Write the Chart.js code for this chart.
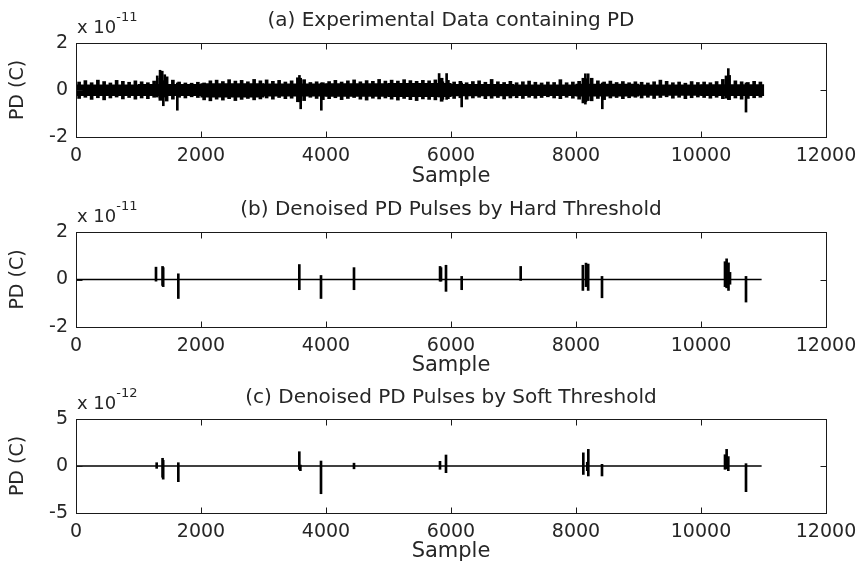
<!DOCTYPE html>
<html>
<head>
<meta charset="utf-8">
<script src="https://cdn.jsdelivr.net/npm/chart.js@4/dist/chart.umd.min.js"></script>
<style>
  html, body { margin: 0; padding: 0; background: #fff; }
  #wrap { position: relative; width: 859px; height: 566px; overflow: hidden; }
  canvas { position: absolute; left: 0; }
</style>
</head>
<body>
<div id="wrap">
  <canvas id="panelA" width="880" height="189" style="top:0px"></canvas>
  <canvas id="panelB" width="880" height="189" style="top:189px"></canvas>
  <canvas id="panelC" width="880" height="188" style="top:378px"></canvas>
</div>
<script>
// texts
const panelTitles = [
    "(a) Experimental Data containing PD",
    "(b) Denoised PD Pulses by Hard Threshold",
    "(c) Denoised PD Pulses by Soft Threshold"
];
const xLabel = "Sample";
const yLabel = "PD (C)";
const exponents = ["-11", "-11", "-12"];

// ticks
const xTickValues = [0, 2000, 4000, 6000, 8000, 10000, 12000];
const yTicksAB = [-2, 0, 2];
const yTicksC = [-5, 0, 5];

// (a) raw signal, x 1e-11 C. envelope read every 100 samples
const noiseStep = 100;
const noiseUpper = [
    0.34, 0.40, 0.31, 0.42, 0.36, 0.30, 0.41, 0.37, 0.33, 0.39,
    0.35, 0.31, 0.38, 0.50, 0.56, 0.42, 0.34, 0.30, 0.29, 0.33,
    0.30, 0.39, 0.42, 0.36, 0.44, 0.38, 0.41, 0.35, 0.45, 0.39,
    0.43, 0.37, 0.41, 0.34, 0.39, 0.52, 0.44, 0.32, 0.35, 0.31,
    0.36, 0.41, 0.34, 0.39, 0.43, 0.35, 0.40, 0.37, 0.45, 0.38,
    0.42, 0.38, 0.44, 0.40, 0.37, 0.41, 0.39, 0.43, 0.50, 0.41,
    0.34, 0.37, 0.31, 0.36, 0.39, 0.33, 0.45, 0.35, 0.32, 0.37,
    0.31, 0.35, 0.38, 0.33, 0.30, 0.34, 0.32, 0.44, 0.31, 0.34,
    0.37, 0.48, 0.50, 0.39, 0.34, 0.38, 0.32, 0.36, 0.31, 0.35,
    0.33, 0.30, 0.35, 0.42, 0.37, 0.31, 0.34, 0.29, 0.36, 0.32,
    0.34, 0.31, 0.36, 0.45, 0.62, 0.39, 0.35, 0.32, 0.37, 0.34
];
const noiseLower = [
    -0.36, -0.31, -0.40, -0.33, -0.42, -0.34, -0.30, -0.38, -0.32, -0.39,
    -0.34, -0.37, -0.31, -0.44, -0.47, -0.39, -0.31, -0.34, -0.29, -0.32,
    -0.42, -0.46, -0.39, -0.43, -0.37, -0.45, -0.40, -0.36, -0.42, -0.38,
    -0.34, -0.39, -0.32, -0.37, -0.35, -0.50, -0.45, -0.31, -0.36, -0.41,
    -0.37, -0.33, -0.41, -0.36, -0.32, -0.39, -0.43, -0.35, -0.38, -0.34,
    -0.39, -0.43, -0.36, -0.41, -0.45, -0.38, -0.40, -0.42, -0.48, -0.37,
    -0.36, -0.33, -0.39, -0.34, -0.31, -0.37, -0.35, -0.32, -0.38, -0.34,
    -0.33, -0.36, -0.31, -0.35, -0.32, -0.29, -0.34, -0.37, -0.31, -0.35,
    -0.39, -0.50, -0.46, -0.36, -0.41, -0.34, -0.32, -0.37, -0.33, -0.31,
    -0.34, -0.31, -0.36, -0.32, -0.29, -0.35, -0.31, -0.37, -0.33, -0.30,
    -0.32, -0.35, -0.31, -0.37, -0.41, -0.34, -0.39, -0.36, -0.33, -0.31
];
// solid core of the noise band, every 1000 samples
const coreStep = 1000;
const coreUpper = [0.22, 0.24, 0.27, 0.26, 0.27, 0.28, 0.24, 0.22, 0.25, 0.22, 0.23];
const coreLower = [-0.24, -0.24, -0.30, -0.26, -0.27, -0.28, -0.25, -0.24, -0.26, -0.23, -0.24];
// bigger PD pulses sticking out of the noise
const rawPulseSamples = [1300, 1345, 1380, 1397, 1420, 1621, 3575, 3595, 3925, 5810, 5870, 5930, 6171, 8110, 8150, 8195, 8421, 10400, 10437, 10720];
const rawPulseHigh    = [0.60, 0.84, 0.80, 0.40, 0.65, 0.30, 0.62, 0.50, 0.30, 0.70, 0.35, 0.70, 0.30, 0.50, 0.69, 0.69, 0.30, 0.60, 0.91, 0.30];
const rawPulseLow     = [-0.30, -0.35, -0.40, -0.67, -0.30, -0.86, -0.50, -0.80, -0.86, -0.30, -0.40, -0.40, -0.72, -0.55, -0.60, -0.45, -0.80, -0.35, -0.40, -0.94];
const signalEnd = 10970;

// (b) hard threshold, x 1e-11 C
const hardSamples = [1280, 1385, 1395, 1637, 3573, 3920, 4448, 5825, 5840, 5920, 6171, 7115, 8110, 8160, 8195, 8416, 10384, 10410, 10440, 10464, 10720];
const hardHigh    = [0.52, 0.55, 0.50, 0.24, 0.63, 0.17, 0.50, 0.55, 0.50, 0.60, 0.13, 0.55, 0.60, 0.69, 0.65, 0.13, 0.75, 0.87, 0.70, 0.30, 0.13];
const hardLow     = [-0.07, -0.25, -0.30, -0.80, -0.43, -0.80, -0.43, -0.07, -0.07, -0.50, -0.43, -0.04, -0.46, -0.30, -0.46, -0.77, -0.30, -0.35, -0.46, -0.20, -0.95];

// (c) soft threshold, x 1e-12 C
const softSamples = [1291, 1385, 1395, 1637, 3573, 3590, 3920, 4448, 5824, 5920, 8117, 8180, 8197, 8416, 10384, 10410, 10437, 10720];
const softHigh    = [0.35, 0.82, 0.60, 0.35, 1.52, 0.10, 0.53, 0.30, 0.50, 1.17, 1.40, 0.40, 1.77, 0.18, 1.20, 1.77, 1.00, 0.25];
const softLow     = [-0.25, -1.20, -1.40, -1.67, -0.35, -0.50, -2.95, -0.30, -0.35, -0.71, -0.90, -0.50, -1.06, -1.06, -0.35, -0.30, -0.50, -2.73];

const FONT = '"DejaVu Sans", sans-serif';
const INK = "#262626";

function floating(xs, lo, hi) {
    return xs.map((x, i) => ({ x: x, y: [lo[i], hi[i]] }));
}

// MATLAB style box with inward ticks and the "x 10^n" multiplier
const matlabBox = {
    id: "matlabBox",
    afterDraw(chart, args, opts) {
        const { ctx, chartArea: a, scales } = chart;
        const x = scales.x, y = scales.y;
        const len = 6;
        ctx.save();
        ctx.strokeStyle = "#1a1a1a";
        ctx.lineWidth = 1;
        const L = Math.round(a.left) + 0.5, R = Math.round(a.right) + 0.5;
        const T = Math.round(a.top) + 0.5, B = Math.round(a.bottom) + 0.5;
        ctx.strokeRect(L, T, R - L, B - T);
        ctx.beginPath();
        x.ticks.forEach(t => {
            const p = Math.round(x.getPixelForValue(t.value)) + 0.5;
            ctx.moveTo(p, B); ctx.lineTo(p, B - len);
            ctx.moveTo(p, T); ctx.lineTo(p, T + len);
        });
        y.ticks.forEach(t => {
            const p = Math.round(y.getPixelForValue(t.value)) + 0.5;
            ctx.moveTo(L, p); ctx.lineTo(L + len, p);
            ctx.moveTo(R, p); ctx.lineTo(R - len, p);
        });
        ctx.stroke();

        ctx.fillStyle = INK;
        ctx.textBaseline = "alphabetic";
        ctx.textAlign = "left";
        ctx.font = "18px " + FONT;
        const base = "x 10";
        ctx.fillText(base, a.left + 1, a.top - 10);
        const w = ctx.measureText(base).width;
        ctx.font = "13px " + FONT;
        ctx.fillText(opts.exponent, a.left + 1 + w, a.top - 22);
        ctx.restore();
    }
};

function buildPanel(id, idx, yTicks, datasets, layout) {
    return new Chart(document.getElementById(id), {
        type: "bar",
        data: { datasets: datasets },
        plugins: [matlabBox],
        options: {
            responsive: false,
            animation: false,
            events: [],
            // canvas is 880 wide, the page clips at 859: right edge of the box at 826
            layout: { padding: { left: 0, right: 54, top: 0, bottom: 0 } },
            datasets: { bar: { grouped: false, borderWidth: 0 } },
            plugins: {
                legend: { display: false },
                tooltip: { enabled: false },
                title: {
                    display: true,
                    fullSize: false,
                    text: panelTitles[idx],
                    color: INK,
                    font: { family: FONT, size: 20, weight: "normal" },
                    padding: layout.titlePad
                },
                matlabBox: { exponent: exponents[idx] }
            },
            scales: {
                x: {
                    type: "linear",
                    offset: false,
                    min: 0,
                    max: 12000,
                    afterBuildTicks: s => { s.ticks = xTickValues.map(v => ({ value: v })); },
                    afterFit: s => { s.height = layout.xAxisHeight; },
                    grid: { display: false, drawTicks: false },
                    border: { display: false },
                    ticks: {
                        autoSkip: false,
                        maxRotation: 0,
                        padding: 8,
                        color: INK,
                        font: { family: FONT, size: 19 },
                        callback: v => String(v)
                    },
                    title: {
                        display: true,
                        text: xLabel,
                        color: INK,
                        font: { family: FONT, size: 21 },
                        padding: { top: 0, bottom: layout.xTitlePad }
                    }
                },
                y: {
                    min: yTicks[0],
                    max: yTicks[yTicks.length - 1],
                    afterBuildTicks: s => { s.ticks = yTicks.map(v => ({ value: v })); },
                    afterFit: s => { s.width = 76; },
                    grid: { display: false, drawTicks: false },
                    border: { display: false },
                    ticks: {
                        padding: 8,
                        color: INK,
                        font: { family: FONT, size: 19 },
                        callback: v => String(v)
                    },
                    title: {
                        display: true,
                        text: yLabel,
                        color: INK,
                        font: { family: FONT, size: 19 },
                        padding: { top: 7, bottom: 0 }
                    }
                }
            }
        }
    });
}

document.addEventListener("DOMContentLoaded", () => {

    // (a) experimental data
    const noiseX = noiseUpper.map((_, i) => i * noiseStep + noiseStep / 2);
    const coreX = coreUpper.map((_, i) => i * coreStep + coreStep / 2);
    buildPanel("panelA", 0, yTicksAB, [
        { data: floating(coreX, coreLower, coreUpper), backgroundColor: "#000", barThickness: 63 },
        { data: floating(noiseX, noiseLower, noiseUpper), backgroundColor: "#000", barThickness: 3 },
        { data: floating(rawPulseSamples, rawPulseLow, rawPulseHigh), backgroundColor: "#000", barThickness: 2 }
    ], { titlePad: { top: 9, bottom: 10 }, xAxisHeight: 52, xTitlePad: 0 });

    // (b) hard threshold
    buildPanel("panelB", 1, yTicksAB, [
        { type: "line", data: [{ x: 0, y: 0 }, { x: signalEnd, y: 0 }], borderColor: "#000", borderWidth: 1.5, pointRadius: 0 },
        { data: floating(hardSamples, hardLow, hardHigh), backgroundColor: "#000", barThickness: 2 }
    ], { titlePad: { top: 9, bottom: 10 }, xAxisHeight: 51, xTitlePad: 0 });

    // (c) soft threshold
    buildPanel("panelC", 2, yTicksC, [
        { type: "line", data: [{ x: 0, y: 0 }, { x: signalEnd, y: 0 }], borderColor: "#000", borderWidth: 1.5, pointRadius: 0 },
        { data: floating(softSamples, softLow, softHigh), backgroundColor: "#000", barThickness: 2 }
    ], { titlePad: { top: 8, bottom: 9 }, xAxisHeight: 53, xTitlePad: 1.5 });

});
</script>
</body>
</html>
